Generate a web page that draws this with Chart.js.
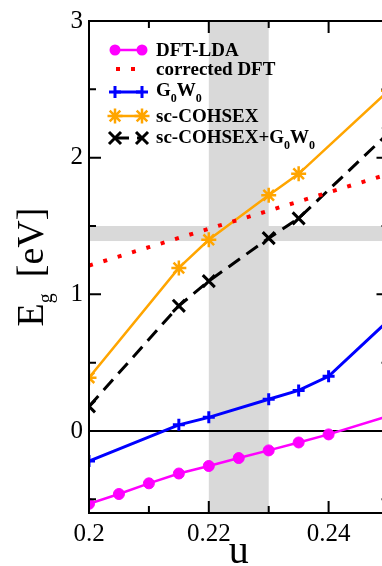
<!DOCTYPE html>
<html lang="en">
<head>
<meta charset="UTF-8">
<title>Eg vs u</title>
<style>
  html, body { margin: 0; padding: 0; background: #fff; overflow: hidden; }
  #wrap { width: 400px; height: 566px; }
</style>
</head>
<body>
<div id="wrap"><canvas id="chart" width="400" height="566"></canvas></div>
<script src="https://cdn.jsdelivr.net/npm/chart.js@4/dist/chart.umd.min.js"></script>
<script>
// values
const uLda = [0.2, 0.205, 0.21, 0.215, 0.22, 0.225, 0.23, 0.235, 0.24, 0.25];
const egLda = [-0.533, -0.461, -0.383, -0.311, -0.256, -0.198, -0.142, -0.084, -0.025, 0.11];

const uCorr = [0.2, 0.21, 0.22, 0.23, 0.24, 0.25];
const egCorr = [1.21, 1.345, 1.48, 1.612, 1.746, 1.88];

const uGw = [0.2, 0.215, 0.22, 0.23, 0.235, 0.24, 0.25];
const egGw = [-0.22, 0.045, 0.10, 0.232, 0.297, 0.40, 0.81];

const uCoh = [0.2, 0.215, 0.22, 0.23, 0.235, 0.25];
const egCoh = [0.39, 1.193, 1.399, 1.725, 1.882, 2.49];

const uCohGw = [0.2, 0.215, 0.22, 0.23, 0.235, 0.25];
const egCohGw = [0.18, 0.916, 1.097, 1.411, 1.556, 2.18];

const xTicks = [0.2, 0.22, 0.24];
const xMinor = [0.21, 0.23, 0.25];
const yTicks = [0, 1, 2, 3];
const yMinor = [-0.5, 0.5, 1.5, 2.5];

const uBand = [0.22, 0.23];     // shaded u range
const egBand = [1.39, 1.50];    // shaded gap range

const SERIF = "'Liberation Serif', 'Times New Roman', serif";

function pts(xs, ys) { return xs.map((x, i) => ({ x: x, y: ys[i] })); }

// simple marker painter, same shapes as chart.js point styles
function marker(ctx, style, x, y, r) {
    ctx.beginPath();
    if (style === 'circle') {
        ctx.arc(x, y, r, 0, Math.PI * 2);
        ctx.fill();
        return;
    }
    if (style === 'cross' || style === 'star') {
        ctx.moveTo(x - r, y); ctx.lineTo(x + r, y);
        ctx.moveTo(x, y - r); ctx.lineTo(x, y + r);
    }
    if (style === 'crossRot' || style === 'star') {
        const d = r * Math.SQRT1_2;
        ctx.moveTo(x - d, y - d); ctx.lineTo(x + d, y + d);
        ctx.moveTo(x - d, y + d); ctx.lineTo(x + d, y - d);
    }
    ctx.stroke();
}

// text with subscript parts
function richText(ctx, parts, x, y, size, bold) {
    let cx = x;
    parts.forEach(p => {
        const s = p.sub ? Math.round(size * 0.62) : size;
        ctx.font = (bold ? 'bold ' : '') + s + 'px ' + SERIF;
        ctx.fillText(p.t, cx, y + (p.sub ? size * 0.3 : 0));
        cx += ctx.measureText(p.t).width;
    });
}

const series = [
    { label: [{ t: 'DFT-LDA' }], xs: uLda, ys: egLda, color: '#ff00ff', style: 'circle', r: 5.5, bw: 1, width: 2.5, dash: [] },
    { label: [{ t: 'corrected DFT' }], xs: uCorr, ys: egCorr, color: '#ff0000', style: false, r: 0, bw: 0, width: 4, dash: [4, 11] },
    { label: [{ t: 'G' }, { t: '0', sub: true }, { t: 'W' }, { t: '0', sub: true }], xs: uGw, ys: egGw, color: '#0000ff', style: 'cross', r: 6, bw: 3, width: 3, dash: [] },
    { label: [{ t: 'sc-COHSEX' }], xs: uCoh, ys: egCoh, color: '#ffa500', style: 'star', r: 7.5, bw: 2.5, width: 2.5, dash: [] },
    { label: [{ t: 'sc-COHSEX+G' }, { t: '0', sub: true }, { t: 'W' }, { t: '0', sub: true }], xs: uCohGw, ys: egCohGw, color: '#000000', style: 'crossRot', r: 8.5, bw: 3, width: 3, dash: [14, 8] }
];

const legendRows = [
    { line: 50, base: 56 },
    { line: 69, base: 75 },
    { line: 92, base: 96 },
    { line: 116, base: 122 },
    { line: 138, base: 143 }
];

const decor = {
    id: 'decor',
    beforeDatasetsDraw(chart) {
        const ctx = chart.ctx, a = chart.chartArea;
        const xs = chart.scales.x, ys = chart.scales.y;
        ctx.save();
        ctx.fillStyle = '#d9d9d9';
        const bx1 = xs.getPixelForValue(uBand[0]), bx2 = xs.getPixelForValue(uBand[1]);
        ctx.fillRect(bx1, a.top, bx2 - bx1, a.bottom - a.top);
        const by1 = ys.getPixelForValue(egBand[1]), by2 = ys.getPixelForValue(egBand[0]);
        ctx.fillRect(a.left, by1, a.right - a.left, by2 - by1);
        // zero line
        ctx.strokeStyle = '#000';
        ctx.lineWidth = 2;
        const y0 = ys.getPixelForValue(0);
        ctx.beginPath();
        ctx.moveTo(a.left, y0); ctx.lineTo(a.right, y0);
        ctx.stroke();
        ctx.restore();
    },
    afterDatasetsDraw(chart) {
        const ctx = chart.ctx, a = chart.chartArea;
        const xs = chart.scales.x, ys = chart.scales.y;
        ctx.save();
        ctx.strokeStyle = '#000';
        ctx.lineWidth = 2;
        ctx.strokeRect(a.left, a.top, a.right - a.left, a.bottom - a.top);
        // inward ticks on all sides
        ctx.beginPath();
        const tick = (v, len) => {
            const px = xs.getPixelForValue(v);
            ctx.moveTo(px, a.bottom); ctx.lineTo(px, a.bottom - len);
            ctx.moveTo(px, a.top); ctx.lineTo(px, a.top + len);
        };
        const ytick = (v, len) => {
            const py = ys.getPixelForValue(v);
            ctx.moveTo(a.left, py); ctx.lineTo(a.left + len, py);
            ctx.moveTo(a.right, py); ctx.lineTo(a.right - len, py);
        };
        xTicks.forEach(v => tick(v, 12));
        xMinor.forEach(v => tick(v, 7));
        yTicks.forEach(v => ytick(v, 12));
        yMinor.forEach(v => ytick(v, 7));
        ctx.stroke();

        // legend
        const x1 = 115, x2 = 142;
        series.forEach((s, i) => {
            const row = legendRows[i];
            ctx.strokeStyle = s.color;
            ctx.fillStyle = s.color;
            ctx.lineWidth = s.width;
            ctx.setLineDash(s.dash);
            ctx.beginPath();
            if (s.style) { ctx.moveTo(x1, row.line); ctx.lineTo(x2, row.line); }
            else { ctx.moveTo(116, row.line); ctx.lineTo(137, row.line); }
            ctx.stroke();
            ctx.setLineDash([]);
            if (s.style) {
                ctx.lineWidth = s.bw;
                marker(ctx, s.style, x1, row.line, s.r);
                marker(ctx, s.style, x2, row.line, s.r);
            }
            ctx.fillStyle = '#000';
            ctx.textBaseline = 'alphabetic';
            ctx.textAlign = 'left';
            richText(ctx, s.label, 156, row.base, 19, true);
        });

        // axis titles
        ctx.fillStyle = '#000';
        ctx.textAlign = 'left';
        ctx.textBaseline = 'alphabetic';
        ctx.font = '40px ' + SERIF;
        const uw = ctx.measureText('u').width;
        ctx.fillText('u', (a.left + a.right) / 2 - uw / 2, 563);

        ctx.translate(43, (a.top + a.bottom) / 2);
        ctx.rotate(-Math.PI / 2);
        ctx.font = '38px ' + SERIF;
        const wE = ctx.measureText('E').width;
        const wBr = ctx.measureText('[eV]').width;
        ctx.font = '20px ' + SERIF;
        const wg = ctx.measureText('g').width;
        const gap = 16;
        let tx = -(wE + wg + gap + wBr) / 2;
        ctx.font = '38px ' + SERIF;
        ctx.fillText('E', tx, 0);
        tx += wE;
        ctx.font = '20px ' + SERIF;
        ctx.fillText('g', tx, 8.5);
        tx += wg + gap;
        ctx.font = '38px ' + SERIF;
        ctx.fillText('[eV]', tx, 0);
        ctx.restore();
    }
};

const datasets = series.map(s => ({
    label: s.label.map(p => p.t).join(''),
    data: pts(s.xs, s.ys),
    borderColor: s.color,
    backgroundColor: s.color,
    borderWidth: s.width,
    borderDash: s.dash,
    borderCapStyle: 'butt',
    pointStyle: s.style,
    pointRadius: s.r,
    pointBorderWidth: s.bw,
    pointBackgroundColor: s.color,
    pointBorderColor: s.color,
    pointHoverRadius: s.r,
    tension: 0,
    fill: false
}));

new Chart(document.getElementById('chart').getContext('2d'), {
    type: 'line',
    data: { datasets: datasets },
    options: {
        responsive: false,
        animation: false,
        devicePixelRatio: 1,
        layout: { padding: { top: 16, right: 11, left: 0, bottom: 0 } },
        plugins: { legend: { display: false }, tooltip: { enabled: false } },
        scales: {
            x: {
                type: 'linear',
                min: 0.2,
                max: 0.25,
                grid: { display: false, drawTicks: false },
                border: { display: false },
                afterBuildTicks: sc => { sc.ticks = xTicks.map(v => ({ value: v })); },
                afterFit: sc => { sc.height = 53; },
                ticks: {
                    padding: 6,
                    maxRotation: 0,
                    color: '#000',
                    font: { family: SERIF, size: 25 },
                    callback: v => String(v)
                }
            },
            y: {
                type: 'linear',
                min: -0.6,
                max: 3,
                grid: { display: false, drawTicks: false },
                border: { display: false },
                afterBuildTicks: sc => { sc.ticks = yTicks.map(v => ({ value: v })); },
                afterFit: sc => { sc.width = 89; },
                ticks: {
                    padding: 6,
                    color: '#000',
                    font: { family: SERIF, size: 25 },
                    callback: v => String(v)
                }
            }
        }
    },
    plugins: [decor]
});
</script>
</body>
</html>
